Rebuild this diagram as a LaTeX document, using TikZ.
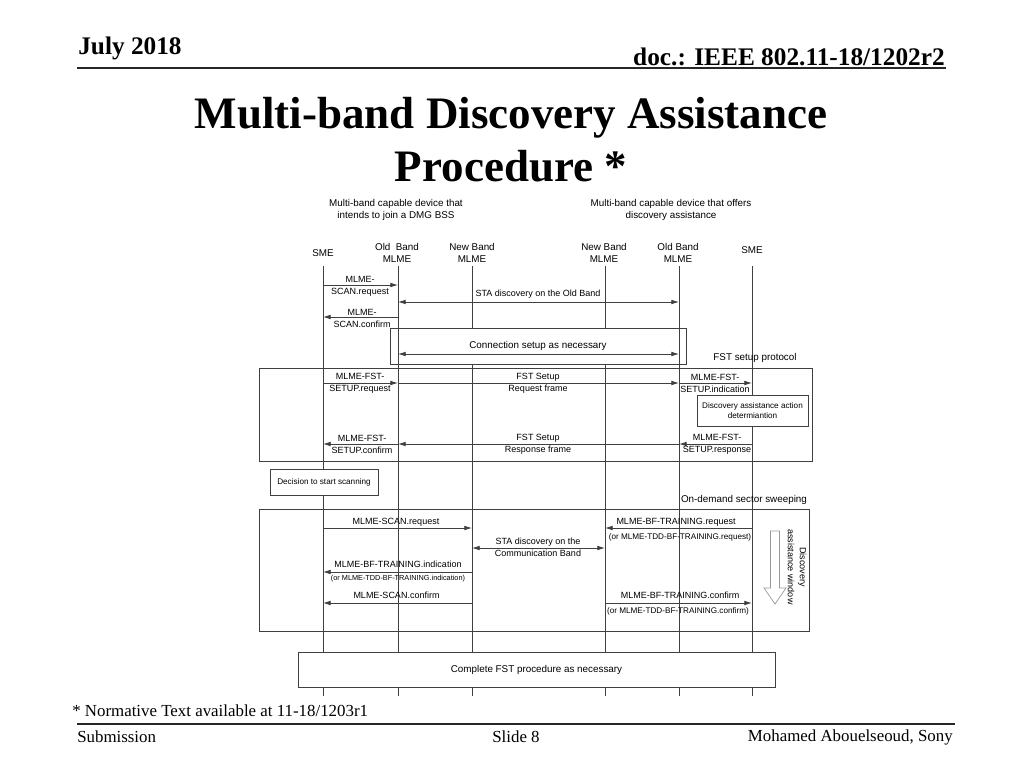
\documentclass[tikz,border=0pt]{standalone}
\usepackage{fontspec}
\setmainfont{Liberation Serif}
\setsansfont{Liberation Sans}
\usetikzlibrary{arrows.meta,positioning}
\tikzset{
  hdr/.style={font=\bfseries\fontsize{18}{20}\selectfont, inner sep=0pt},
  ttl/.style={font=\bfseries\fontsize{32}{37.5}\selectfont, align=center, inner sep=0pt},
  foot/.style={font=\fontsize{12}{14}\selectfont, inner sep=0pt},
  rule/.style={draw=black!85, line width=1.1pt},
  party/.style={font=\sffamily\fontsize{7}{8.5}\selectfont, align=center, inner sep=0pt},
  lbl/.style={font=\sffamily\fontsize{6.4}{8.5}\selectfont, align=center, inner sep=0pt},
  small/.style={font=\sffamily\fontsize{5.8}{7.2}\selectfont, align=center, inner sep=0pt},
  tiny/.style={font=\sffamily\fontsize{5.2}{6.4}\selectfont, align=center, inner sep=0pt},
  lane/.style={draw=black!75, line width=0.6pt},
  framebox/.style={draw=black!75, line width=0.6pt, inner sep=0pt},
  notebox/.style={draw=black!75, line width=0.6pt, fill=white, align=center, inner sep=0pt},
  msg/.style={-{Latex[length=5.5pt,width=3.4pt]}, line width=0.6pt, draw=black!75},
  twoway/.style={{Latex[length=5.5pt,width=3.4pt]}-{Latex[length=5.5pt,width=3.4pt]}, line width=0.6pt, draw=black!75},
  window/.style={draw=black!40, line width=0.5pt, fill=white}
}

\begin{document}
\begin{tikzpicture}[x=0.025cm, y=-0.025cm]
  \useasboundingbox (0,0) rectangle (1024,768);

  % page header and footer
  \node[hdr, anchor=west] (date) at (78,48) {July 2018};
  \node[hdr, anchor=east] (docno) at (945,57) {doc.: IEEE 802.11-18/1202r2};
  \draw[rule] (77,68) -- (946,68);
  \node[ttl] (title) at (511,139.5) {Multi-band Discovery Assistance\\Procedure *};

  \node[foot, anchor=west] (normref) at (72,711) {* Normative Text available at 11-18/1203r1};
  \draw[rule, line width=0.9pt] (77,724) -- (955,724);
  \node[foot, anchor=west] (subm) at (77,737) {Submission};
  \node[foot] (slide) at (516,737) {Slide 8};
  \node[foot, anchor=east] (author) at (953,737) {Mohamed Abouelseoud, Sony};

  % parties and lifelines
  \node[party] (joiner) at (396,210) {Multi-band capable device that\\intends to join a DMG BSS};
  \node[party] (helper) at (671,210) {Multi-band capable device that offers\\discovery assistance};

  \foreach \n/\x in {smeA/323, oldA/398, newA/472, newB/605, oldB/679, smeB/752} {
    \coordinate (\n) at (\x,266);
    \coordinate (\n-end) at (\x,696);
    \draw[lane] (\n) -- (\n-end);
  }
  \node[party] (smeAhd) at (323,253) {SME};
  \node[party] (oldAhd) at (397,252.5) {Old\ \ Band\\MLME};
  \node[party] (newAhd) at (472,252.5) {New Band\\MLME};
  \node[party] (newBhd) at (604,252.5) {New Band\\MLME};
  \node[party] (oldBhd) at (678,252.5) {Old Band\\MLME};
  \node[party] (smeBhd) at (752,250) {SME};

  % message rows
  \foreach \r/\y in {r1/285, r2/302, r3/317, r4/354, r5/383, r6/444, r7/528, r8/548, r9/572, r10/603}
    \coordinate (\r) at (0,\y);

  % boxes
  \node[framebox, minimum width=13.825cm, minimum height=2.325cm] (fstbox) at (535.5,414.5) {};
  \node[framebox, minimum width=13.75cm, minimum height=3.05cm] (sweepbox) at (534,570) {};
  \node[notebox, minimum width=7.4cm, minimum height=0.9cm] (connbox) at (538,346) {};
  \draw[lane] (oldA |- connbox.north) -- (oldA |- connbox.south);
  \draw[lane] (oldB |- connbox.north) -- (oldB |- connbox.south);
  \node[notebox, small, minimum width=2.775cm, minimum height=0.775cm] (actbox) at (752.5,410.5) {Discovery assistance action\\determiantion};
  \node[notebox, small, minimum width=2.7cm, minimum height=0.65cm] (decbox) at (324,482) {Decision to start scanning};
  \node[notebox, party, minimum width=11.925cm, minimum height=0.875cm] (donebox) at (536.5,669.5) {Complete FST procedure as necessary};

  \node[party] (fstlbl) at (755,358) {FST setup protocol};
  \node[party] (sweeplbl) at (744,500) {On-demand sector sweeping};

  % discovery on the old band
  \draw[msg] (smeA |- r1) -- (oldA |- r1);
  \node[lbl] (scanreq) at (360,286) {MLME-\\SCAN.request};
  \draw[twoway] (oldA |- r2) -- (oldB |- r2);
  \node[lbl] (olddisc) at (538,294) {STA discovery on the Old Band};
  \draw[msg] (oldA |- r3) -- (smeA |- r3);
  \node[lbl] (scancnf) at (362,318.5) {MLME-\\SCAN.confirm};
  \draw[twoway] (oldA |- r4) -- (oldB |- r4);
  \node[party] (connlbl) at (538,345.5) {Connection setup as necessary};

  % FST setup
  \draw[msg] (smeA |- r5) -- (oldA |- r5);
  \draw[msg] (oldA |- r5) -- (oldB |- r5);
  \draw[msg] (oldB |- r5) -- (smeB |- r5);
  \node[lbl] (fstreq) at (360,383.5) {MLME-FST-\\SETUP.request};
  \node[lbl] (reqframe) at (538,383.5) {FST Setup\\Request frame};
  \node[lbl] (fstind) at (715,383.5) {MLME-FST-\\SETUP.indication};
  \draw[msg] (smeB |- r6) -- (oldB |- r6);
  \draw[msg] (oldB |- r6) -- (oldA |- r6);
  \draw[msg] (oldA |- r6) -- (smeA |- r6);
  \node[lbl] (fstrsp) at (717,444.5) {MLME-FST-\\SETUP.response};
  \node[lbl] (rspframe) at (538,444.5) {FST Setup\\Response frame};
  \node[lbl] (fstcnf) at (362,444.5) {MLME-FST-\\SETUP.confirm};

  % on-demand sector sweeping
  \draw[msg] (smeA |- r7) -- (newA |- r7);
  \node[lbl] (scanreqB) at (396,522.5) {MLME-SCAN.request};
  \draw[twoway] (newA |- r8) -- (newB |- r8);
  \node[lbl] (newdisc) at (538,547.5) {STA discovery on the\\Communication Band};
  \draw[msg] (smeB |- r7) -- (newB |- r7);
  \node[lbl] (bfreq) at (676,522.5) {MLME-BF-TRAINING.request};
  \node[small] (bfreqalt) at (680,537.5) {(or MLME-TDD-BF-TRAINING.request)};
  \draw[msg] (newA |- r9) -- (smeA |- r9);
  \node[lbl] (bfind) at (398,564.5) {MLME-BF-TRAINING.indication};
  \node[tiny] (bfindalt) at (398,579) {(or MLME-TDD-BF-TRAINING.indication)};
  \draw[msg] (newA |- r10) -- (smeA |- r10);
  \node[lbl] (scancnfB) at (396.5,595) {MLME-SCAN.confirm};
  \draw[msg] (newB |- r10) -- (smeB |- r10);
  \node[lbl] (bfcnf) at (680,595.5) {MLME-BF-TRAINING.confirm};
  \node[small] (bfcnfalt) at (678,611.5) {(or MLME-TDD-BF-TRAINING.confirm)};

  % discovery assistance window
  \draw[window] (770.5,531) -- (779.5,531) -- (779.5,588) -- (786,588) -- (775,604) -- (764,588) -- (770.5,588) -- cycle;
  \node[lbl, rotate=-90] (winlbl) at (797,567) {Discovery\\assistance window};
\end{tikzpicture}
\end{document}
